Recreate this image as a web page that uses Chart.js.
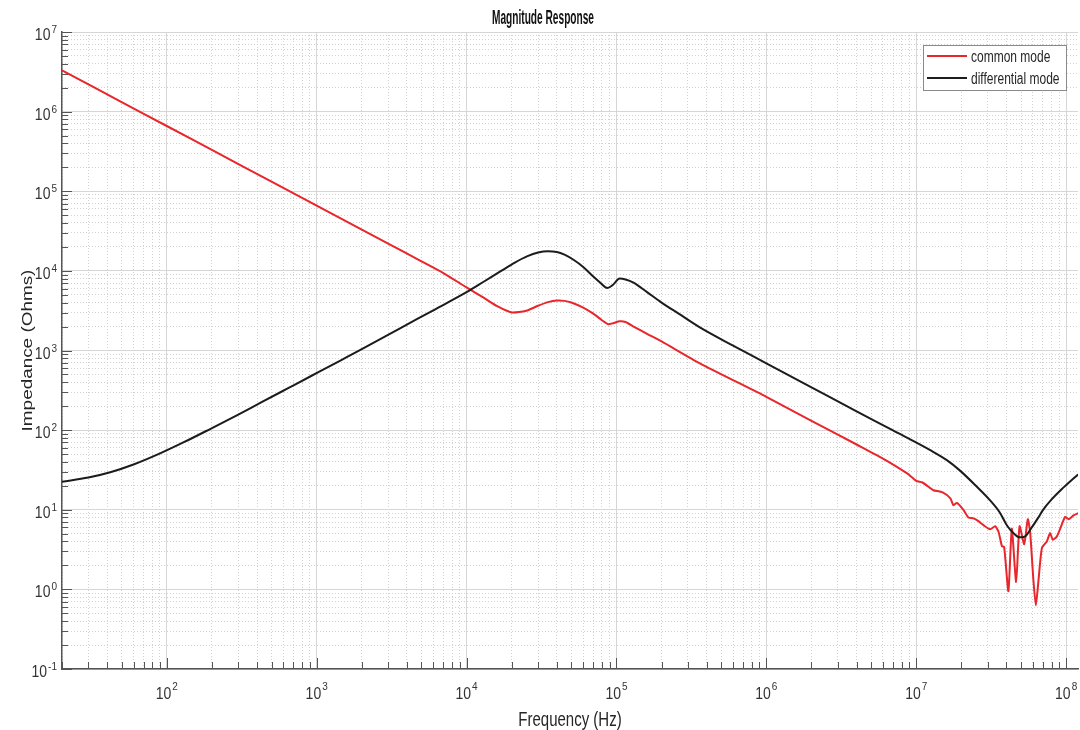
<!DOCTYPE html>
<html>
<head>
<meta charset="utf-8">
<script src="https://cdn.jsdelivr.net/npm/chart.js@4.4.1/dist/chart.umd.min.js"></script>
<style>
  html, body { margin: 0; padding: 0; background: #fff; }
  #wrap { width: 1080px; height: 730px; }
</style>
</head>
<body>
<div id="wrap"><canvas id="chart" width="1080" height="730"></canvas></div>
<script>
// common mode (red)
const freqCM = [20, 50, 100, 200, 500, 1000, 2000, 3000, 5000, 7000,
  1e4, 1.3e4, 1.6e4, 2e4, 2.5e4, 3e4, 3.5e4, 4e4, 4.5e4, 5e4,
  6e4, 7e4, 8e4, 8.8e4, 9.5e4, 1.05e5, 1.15e5, 1.3e5, 1.6e5, 2e5,
  3.6e5, 1e6, 2e6, 4e6, 6e6, 8.7e6, 1.0e7, 1.1e7, 1.24e7, 1.3e7,
  1.5e7, 1.69e7, 1.77e7, 1.87e7, 2.07e7, 2.23e7, 2.41e7, 2.6e7, 2.81e7, 3.11e7,
  3.36e7, 3.54e7, 3.73e7, 3.86e7, 4.12e7, 4.34e7, 4.64e7, 4.89e7, 5.25e7, 5.55e7,
  5.75e7, 6.05e7, 6.28e7, 6.54e7, 6.89e7, 7.43e7, 7.82e7, 8.15e7, 8.66e7, 9.2e7,
  9.84e7, 1.04e8, 1.12e8, 1.21e8];
const zCM = [3.3e6, 1.32e6, 6.6e5, 3.3e5, 1.32e5, 6.6e4, 3.3e4, 2.2e4, 1.32e4, 9400,
  6200, 4600, 3600, 3000, 3150, 3650, 4050, 4250, 4200, 4000,
  3450, 2900, 2400, 2140, 2200, 2330, 2280, 2000, 1620, 1300,
  690, 262, 131, 66, 44, 28.6, 23, 22, 18.7, 17.6,
  16.5, 13.9, 11.4, 12.2, 9.9, 8.0, 7.8, 7.2, 6.4, 5.7,
  6.2, 5.3, 3.5, 3.4, 0.95, 5.8, 1.24, 6.2, 3.7, 7.6,
  5.3, 1.3, 0.63, 1.3, 3.3, 4.0, 5.1, 4.2, 4.6, 6.0,
  8.1, 7.6, 8.5, 9.1];

// differential mode (black)
const freqDM = [20, 30, 42, 60, 91, 130, 196, 300, 423, 650,
  912, 1450, 2000, 3600, 6000, 1e4, 1.3e4, 1.69e4, 2.1e4, 2.55e4,
  3e4, 3.47e4, 4e4, 4.5e4, 5.17e4, 6e4, 7e4, 7.8e4, 8.7e4, 9.5e4,
  1.05e5, 1.15e5, 1.3e5, 1.6e5, 2e5, 2.6e5, 3.6e5, 6e5, 1e6, 2e6,
  4e6, 7e6, 1.24e7, 1.6e7, 1.96e7, 2.5e7, 3.1e7, 3.6e7, 4.04e7, 4.5e7,
  4.9e7, 5.3e7, 5.9e7, 6.5e7, 7.0e7, 8.0e7, 9.5e7, 1.1e8, 1.24e8];
const zDM = [22.5, 25.4, 29.6, 37, 51.4, 70.5, 104, 157, 221, 339,
  475, 754, 1040, 1900, 3200, 5400, 7300, 9900, 12700, 15300,
  17000, 17700, 17300, 16000, 13800, 11200, 8500, 7100, 6100, 6700,
  8000, 7800, 7100, 5400, 4000, 2900, 1950, 1150, 690, 345,
  172, 99, 56, 42, 31, 20, 13.2, 9.3, 6.3, 5.0,
  4.5, 4.6, 6.0, 7.9, 9.9, 13.5, 18.7, 24, 29];

const seriesNames = ["common mode", "differential mode"];
const seriesColors = ["#e8262b", "#1c1c1c"];
const xDecades = [2, 3, 4, 5, 6, 7, 8];
const yDecades = [-1, 0, 1, 2, 3, 4, 5, 6, 7];
const titleText = "Magnitude Response";
const xTitle = "Frequency (Hz)";
const yTitle = "Impedance (Ohms)";

const X_MIN = 20, X_MAX = 1.2e8, Y_MIN = 0.1, Y_MAX = 1e7;
const FONT = "'Liberation Sans', Arial, sans-serif";

// 1..9 x 10^n positions inside a range (major = 10^n)
function decadeTicks(min, max, wantMajor) {
  const out = [];
  for (let e = Math.floor(Math.log10(min)); e <= Math.ceil(Math.log10(max)); e++) {
    for (let m = 1; m <= 9; m++) {
      if ((m === 1) !== wantMajor) continue;
      const v = m * Math.pow(10, e);
      if (v >= min * 0.999 && v <= max * 1.001) out.push({ value: v, major: m === 1 });
    }
  }
  return out;
}

function toPoints(xs, ys) {
  return xs.map((x, i) => ({ x: x, y: ys[i] }));
}

// text with a stretch, the reference glyphs are taller than wide
function drawText(ctx, text, x, y, size, opts) {
  const o = Object.assign({ sx: 1, sy: 1, bold: false, align: "left", rot: 0, color: "#262626" }, opts);
  ctx.save();
  ctx.translate(x, y);
  if (o.rot) ctx.rotate(o.rot);
  ctx.scale(o.sx, o.sy);
  ctx.font = (o.bold ? "bold " : "") + size + "px " + FONT;
  ctx.fillStyle = o.color;
  ctx.textAlign = o.align;
  ctx.textBaseline = "alphabetic";
  ctx.fillText(text, 0, 0);
  ctx.restore();
}

function textWidth(ctx, text, size) {
  ctx.save();
  ctx.font = size + "px " + FONT;
  const w = ctx.measureText(text).width;
  ctx.restore();
  return w;
}

const decor = {
  id: "decor",
  afterDraw(chart) {
    const ctx = chart.ctx;
    const xs = chart.scales.x, ys = chart.scales.y;
    const area = chart.chartArea;

    // inward ticks (matlab style)
    ctx.save();
    ctx.strokeStyle = "#555";
    ctx.lineWidth = 1;
    decadeTicks(X_MIN, X_MAX, true).concat(decadeTicks(X_MIN, X_MAX, false)).forEach(t => {
      const px = Math.round(xs.getPixelForValue(t.value)) + 0.5;
      ctx.beginPath();
      ctx.moveTo(px, area.bottom);
      ctx.lineTo(px, area.bottom - (t.major ? 11 : 7));
      ctx.stroke();
    });
    decadeTicks(Y_MIN, Y_MAX, true).concat(decadeTicks(Y_MIN, Y_MAX, false)).forEach(t => {
      const py = Math.round(ys.getPixelForValue(t.value)) + 0.5;
      ctx.beginPath();
      ctx.moveTo(area.left, py);
      ctx.lineTo(area.left + (t.major ? 10 : 6), py);
      ctx.stroke();
    });
    ctx.restore();

    // tick labels 10^n
    xDecades.forEach(d => {
      const px = xs.getPixelForValue(Math.pow(10, d));
      const exp = String(d);
      const bw = textWidth(ctx, "10", 14), ew = textWidth(ctx, exp, 10);
      const start = px - (bw + ew + 1) / 2;
      drawText(ctx, "10", start, 699, 14, { sy: 1.22, color: "#333" });
      drawText(ctx, exp, start + bw + 1, 690, 10, { sy: 1.15, color: "#333" });
    });
    yDecades.forEach(d => {
      const py = ys.getPixelForValue(Math.pow(10, d));
      const exp = String(d);
      const ew = textWidth(ctx, exp, 10);
      const right = 57;
      drawText(ctx, exp, right, py + 1, 10, { sy: 1.15, align: "right", color: "#333" });
      drawText(ctx, "10", right - ew - 1, py + 8, 14, { sy: 1.22, align: "right", color: "#333" });
    });

    // titles
    drawText(ctx, titleText, 543, 24, 13, { bold: true, sx: 0.78, sy: 1.5, align: "center", color: "#111" });
    drawText(ctx, xTitle, (area.left + area.right) / 2, 726, 15, { sy: 1.38, align: "center" });
    drawText(ctx, yTitle, 32, (area.top + area.bottom) / 2, 15, { rot: -Math.PI / 2, sx: 1.26, align: "center" });

    // legend box
    const lx = 923.5, ly = 45.5, lw = 143, lh = 45;
    ctx.save();
    ctx.fillStyle = "#fff";
    ctx.fillRect(lx, ly, lw, lh);
    ctx.strokeStyle = "#8a8a8a";
    ctx.lineWidth = 1;
    ctx.strokeRect(lx, ly, lw, lh);
    seriesNames.forEach((name, i) => {
      const yy = 56 + i * 22;
      ctx.strokeStyle = seriesColors[i];
      ctx.lineWidth = 2;
      ctx.beginPath();
      ctx.moveTo(927, yy);
      ctx.lineTo(967, yy);
      ctx.stroke();
      drawText(ctx, name, 971, yy + 6, 12, { sy: 1.3 });
    });
    ctx.restore();
  }
};

const logAxis = (min, max, pos, ticksFn, gridColor, dash, border) => ({
  type: "logarithmic",
  min: min,
  max: max,
  position: pos,
  afterBuildTicks: (scale) => { scale.ticks = ticksFn(); },
  ticks: { display: false },
  grid: { color: gridColor, lineWidth: 1, drawTicks: false },
  border: border
    ? { display: true, color: "#555", width: 1.5, dash: dash }
    : { display: false, dash: dash },
});

new Chart(document.getElementById("chart"), {
  type: "line",
  data: {
    datasets: [
      {
        label: seriesNames[0],
        data: toPoints(freqCM, zCM),
        borderColor: seriesColors[0],
        borderWidth: 2,
        pointRadius: 0,
        tension: 0.2,
        order: 1,
      },
      {
        label: seriesNames[1],
        data: toPoints(freqDM, zDM),
        borderColor: seriesColors[1],
        borderWidth: 2,
        pointRadius: 0,
        cubicInterpolationMode: "monotone",
        order: 0,
      },
    ],
  },
  options: {
    responsive: false,
    animation: false,
    parsing: true,
    layout: { padding: { left: 62, right: 2, top: 32, bottom: 61 } },
    scales: {
      x: logAxis(X_MIN, X_MAX, "bottom", () => decadeTicks(X_MIN, X_MAX, true), "#d6d6d6", [], true),
      xMinor: logAxis(X_MIN, X_MAX, "bottom", () => decadeTicks(X_MIN, X_MAX, false), "#d2d2d2", [1, 2], false),
      y: logAxis(Y_MIN, Y_MAX, "left", () => decadeTicks(Y_MIN, Y_MAX, true), "#d6d6d6", [], true),
      yMinor: logAxis(Y_MIN, Y_MAX, "left", () => decadeTicks(Y_MIN, Y_MAX, false), "#d2d2d2", [1, 2], false),
    },
    plugins: {
      legend: { display: false },
      title: { display: false },
      tooltip: { enabled: false },
    },
  },
  plugins: [decor],
});
</script>
</body>
</html>
